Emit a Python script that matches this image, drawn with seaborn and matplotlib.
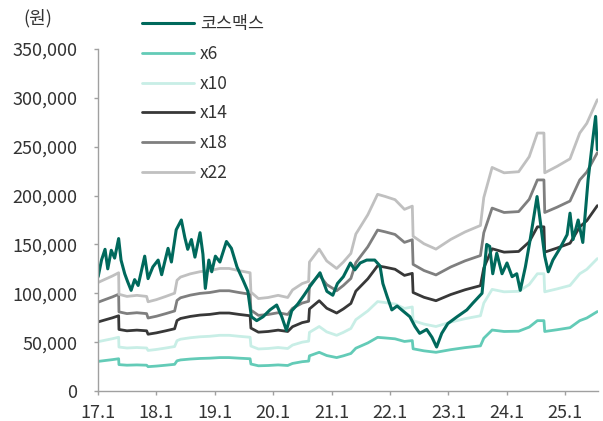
import pandas as pd
import matplotlib.pyplot as plt
import matplotlib.ticker as mticker
import seaborn as sns

# 12M fwd EPS (won) (band value / multiple)
eps_dates = ['2017-01-02', '2017-02-15', '2017-04-01', '2017-05-10', '2017-05-12', '2017-07-01',
             '2017-09-01', '2017-11-01', '2017-11-10', '2018-01-01', '2018-03-01', '2018-04-25',
             '2018-05-10', '2018-06-01', '2018-08-01', '2018-10-01', '2018-12-01', '2019-02-01',
             '2019-04-01', '2019-06-01', '2019-08-10', '2019-08-15', '2019-10-01', '2019-12-01',
             '2020-02-01', '2020-04-01', '2020-05-01', '2020-07-01', '2020-08-10', '2020-08-15',
             '2020-10-15', '2020-12-01', '2021-02-01', '2021-03-15', '2021-05-01', '2021-06-01',
             '2021-08-15', '2021-10-15', '2021-12-01', '2022-02-01', '2022-04-01', '2022-05-20',
             '2022-05-25', '2022-08-01', '2022-10-15', '2023-01-15', '2023-04-15', '2023-07-20',
             '2023-08-10', '2023-10-01', '2023-12-15', '2024-03-15', '2024-05-20', '2024-07-10',
             '2024-08-20', '2024-08-25', '2024-11-10', '2025-01-30', '2025-04-01', '2025-05-15',
             '2025-07-20']
eps_values = [5050, 5200, 5350, 5500, 4500, 4400,
              4450, 4400, 4150, 4250, 4400, 4550,
              5150, 5300, 5450, 5550, 5600, 5700,
              5700, 5600, 5500, 4600, 4300, 4350,
              4450, 4350, 4700, 5000, 5100, 6000,
              6600, 6050, 5700, 6000, 6400, 7300,
              8200, 9150, 9050, 8900, 8450, 8600,
              7200, 6850, 6600, 7050, 7400, 7700,
              9000, 10400, 10150, 10200, 10900, 12000,
              12000, 10150, 10450, 10800, 12000, 12450,
              13550]
multiples = [6, 10, 14, 18, 22]

# 코스맥스 price (won)
price_dates = ['2017-01-02', '2017-01-23', '2017-02-14', '2017-03-03', '2017-03-25', '2017-04-15',
               '2017-05-10', '2017-05-25', '2017-06-17', '2017-07-05', '2017-07-27', '2017-08-18',
               '2017-09-09', '2017-10-01', '2017-10-20', '2017-11-10', '2017-12-10', '2018-01-12',
               '2018-02-03', '2018-02-22', '2018-03-15', '2018-04-05', '2018-05-05', '2018-06-06',
               '2018-06-28', '2018-07-16', '2018-08-08', '2018-08-30', '2018-10-01', '2018-10-19',
               '2018-11-03', '2018-11-25', '2018-12-13', '2019-01-05', '2019-02-02', '2019-03-15',
               '2019-04-15', '2019-05-20', '2019-06-28', '2019-07-27', '2019-08-18', '2019-09-20',
               '2019-10-30', '2019-12-12', '2020-01-23', '2020-02-24', '2020-03-24', '2020-04-26',
               '2020-06-03', '2020-07-12', '2020-08-18', '2020-10-20', '2020-12-02', '2021-01-08',
               '2021-02-06', '2021-03-15', '2021-04-28', '2021-05-26', '2021-06-28', '2021-08-08',
               '2021-09-27', '2021-10-30', '2021-11-17', '2021-12-13', '2022-01-12', '2022-02-14',
               '2022-03-22', '2022-05-05', '2022-06-06', '2022-07-05', '2022-08-18', '2022-09-20',
               '2022-10-19', '2022-11-20', '2022-12-28', '2023-02-24', '2023-04-26', '2023-06-03',
               '2023-07-30', '2023-08-28', '2023-09-16', '2023-10-05', '2023-10-30', '2023-12-02',
               '2024-01-02', '2024-02-03', '2024-03-03', '2024-03-25', '2024-04-26', '2024-05-26',
               '2024-07-08', '2024-07-27', '2024-08-25', '2024-09-16', '2024-10-15', '2024-11-28',
               '2025-01-12', '2025-01-30', '2025-02-18', '2025-03-22', '2025-04-20', '2025-05-23',
               '2025-06-21', '2025-07-09', '2025-07-20']
price_values = [117000, 134000, 145000, 125000, 144000, 136000,
                156000, 134000, 120000, 112000, 103000, 114000,
                108000, 124000, 138000, 115000, 127000, 134000,
                119000, 132000, 146000, 132000, 165000, 175000,
                157000, 145000, 155000, 137000, 162000, 140000,
                105000, 134000, 122000, 138000, 132000, 153000,
                146000, 127000, 113000, 102000, 76000, 72000,
                76000, 83000, 88000, 76000, 62000, 82000,
                89000, 98000, 107000, 121000, 102000, 98000,
                110000, 117000, 131000, 124000, 131000, 134000,
                134000, 128000, 110000, 97000, 83000, 87000,
                82000, 76000, 66000, 59000, 63000, 55000,
                45000, 59000, 69000, 76000, 83000, 90000,
                100000, 150000, 148000, 120000, 141000, 120000,
                131000, 117000, 120000, 103000, 127000, 155000,
                199000, 175000, 138000, 122000, 134000, 146000,
                160000, 182000, 155000, 175000, 152000, 216000,
                257000, 281000, 247000]

band_labels = ['x6', 'x10', 'x14', 'x18', 'x22']
band_colors = ['#63CBB7', '#C8EEE6', '#383838', '#7F7F7F', '#C0C0C0']
price_color = '#00695C'

sns.set_theme(style='ticks')
plt.rcParams['font.family'] = ['Noto Sans CJK KR', 'DejaVu Sans']

eps_df = pd.DataFrame({'date': pd.to_datetime(eps_dates), 'eps': eps_values})
bands = pd.concat(
    [pd.DataFrame({'date': eps_df['date'], 'value': eps_df['eps'] * m, 'band': lab})
     for m, lab in zip(multiples, band_labels)],
    ignore_index=True)
price_df = pd.DataFrame({'date': pd.to_datetime(price_dates), 'price': price_values})

fig = plt.figure(figsize=(6.03, 4.21), dpi=100)
ax = fig.add_axes([98 / 603, 1 - 391 / 421, 500 / 603, 342 / 421])

sns.lineplot(data=bands, x='date', y='value', hue='band', hue_order=band_labels,
             palette=band_colors, linewidth=2.0, estimator=None, ax=ax, legend=False)
sns.lineplot(data=price_df, x='date', y='price', color=price_color, linewidth=2.2,
             estimator=None, ax=ax)

ax.set_xlim(pd.Timestamp('2017-01-01'), pd.Timestamp('2025-07-24'))
ax.set_ylim(0, 350000)
ax.set_yticks(range(0, 350001, 50000))
ax.yaxis.set_major_formatter(mticker.FuncFormatter(lambda v, p: f'{v:,.0f}'))
years = pd.date_range('2017-01-01', '2025-01-01', freq='YS')
ax.set_xticks(years)
ax.set_xticklabels([f'{d.year % 100}.1' for d in years])
ax.set_xlabel('')
ax.set_ylabel('')

for s in ['top', 'right']:
    ax.spines[s].set_visible(False)
for s in ['left', 'bottom']:
    ax.spines[s].set_color('#A0A0A0')
    ax.spines[s].set_linewidth(1.0)
ax.tick_params(axis='both', colors='#A0A0A0', labelcolor='#333333', labelsize=13,
               length=3, width=1.0)
ax.tick_params(axis='y', pad=12)
ax.tick_params(axis='x', pad=6)

fig.text(23 / 603, 1 - 18 / 421, '(원)', fontsize=13, color='#333333', va='center')

handles = [plt.Line2D([], [], color=price_color, linewidth=2.2)]
handles += [plt.Line2D([], [], color=c, linewidth=2.0) for c in band_colors]
fig.legend(handles, ['코스맥스'] + band_labels, loc='upper left',
           bbox_to_anchor=(142 / 603, 1 - 15 / 421), frameon=False, fontsize=12.5,
           handlelength=3.0, handletextpad=0.35, labelspacing=0.68, borderpad=0,
           borderaxespad=0, labelcolor='#333333')

fig.savefig('out.png', dpi=100)
